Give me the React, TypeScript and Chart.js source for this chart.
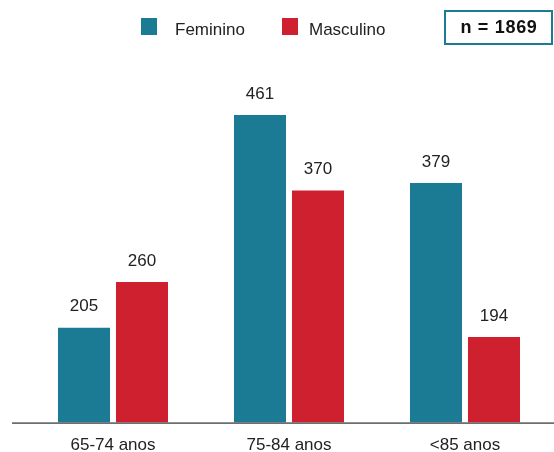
import React, { useEffect, useRef } from "react";
import { Chart, registerables } from "chart.js";

Chart.register(...registerables);

const categories = ["65-74 anos", "75-84 anos", "<85 anos"];
const seriesNames = ["Feminino", "Masculino"];
const feminino = [205, 461, 379];
const masculino = [260, 370, 194];
const sampleLabel = "n = 1869";

const TEAL = "#1b7b94";
const RED = "#cf202f";
const FONT = "'Liberation Sans', Arial, Helvetica, sans-serif";
const TEXT = "#222222";

const valueLabelPlugin = {
  id: "valueLabels",
  afterDatasetsDraw(chart: any) {
    const ctx = chart.ctx;
    ctx.save();
    ctx.font = `17px ${FONT}`;
    ctx.fillStyle = TEXT;
    ctx.textAlign = "center";
    ctx.textBaseline = "middle";
    chart.data.datasets.forEach((ds: any, di: number) => {
      const meta = chart.getDatasetMeta(di);
      meta.data.forEach((bar: any, i: number) => {
        ctx.fillText(String(ds.data[i]), bar.x, bar.y - 21);
      });
    });
    ctx.restore();
  },
};

const baselinePlugin = {
  id: "baseline",
  afterDatasetsDraw(chart: any) {
    const ctx = chart.ctx;
    const y = chart.chartArea.bottom + 0.5;
    ctx.save();
    ctx.strokeStyle = "#6e6e6e";
    ctx.lineWidth = 1.6;
    ctx.beginPath();
    ctx.moveTo(12, y);
    ctx.lineTo(chart.width, y);
    ctx.stroke();
    ctx.restore();
  },
};

export default function App() {
  const ref = useRef<HTMLCanvasElement | null>(null);

  useEffect(() => {
    if (!ref.current) return;
    const chart = new Chart(ref.current, {
      type: "bar",
      data: {
        labels: categories,
        datasets: [
          {
            label: seriesNames[0],
            data: feminino,
            backgroundColor: TEAL,
            borderWidth: 0,
            categoryPercentage: 0.659,
            barPercentage: 0.897,
          },
          {
            label: seriesNames[1],
            data: masculino,
            backgroundColor: RED,
            borderWidth: 0,
            categoryPercentage: 0.659,
            barPercentage: 0.897,
          },
        ],
      },
      options: {
        responsive: false,
        animation: false,
        layout: { padding: { top: 60, left: 25, right: 1, bottom: 0 } },
        plugins: {
          legend: { display: false },
          tooltip: { enabled: false },
        },
        scales: {
          x: {
            grid: { display: false },
            border: { display: false },
            ticks: {
              color: TEXT,
              padding: 5,
              font: { family: FONT, size: 17 },
            },
          },
          y: {
            display: false,
            min: 91,
            max: 527,
          },
        },
      },
      plugins: [valueLabelPlugin, baselinePlugin],
    });
    return () => chart.destroy();
  }, []);

  const legendText: React.CSSProperties = {
    position: "absolute",
    top: 21,
    fontFamily: FONT,
    fontSize: 17,
    lineHeight: "17px",
    color: TEXT,
    whiteSpace: "nowrap",
  };
  const sq: React.CSSProperties = {
    position: "absolute",
    top: 18,
    width: 16,
    height: 17,
  };

  return (
    <div
      style={{
        position: "absolute",
        left: 0,
        top: 0,
        width: 554,
        height: 452,
        overflow: "hidden",
        background: "#ffffff",
      }}
    >
      <canvas ref={ref} width={554} height={461} style={{ display: "block" }} />
      <div style={{ ...sq, left: 141, background: TEAL }} />
      <div style={{ ...legendText, left: 175 }}>{seriesNames[0]}</div>
      <div style={{ ...sq, left: 282, background: RED }} />
      <div style={{ ...legendText, left: 309 }}>{seriesNames[1]}</div>
      <div
        style={{
          position: "absolute",
          left: 444,
          top: 10,
          width: 109,
          height: 35,
          boxSizing: "border-box",
          border: `2.5px solid ${TEAL}`,
          display: "flex",
          alignItems: "center",
          justifyContent: "center",
          fontFamily: FONT,
          fontWeight: "bold",
          fontSize: 18,
          letterSpacing: "0.7px",
          color: "#111111",
          paddingLeft: 1,
        }}
      >
        {sampleLabel}
      </div>
    </div>
  );
}
